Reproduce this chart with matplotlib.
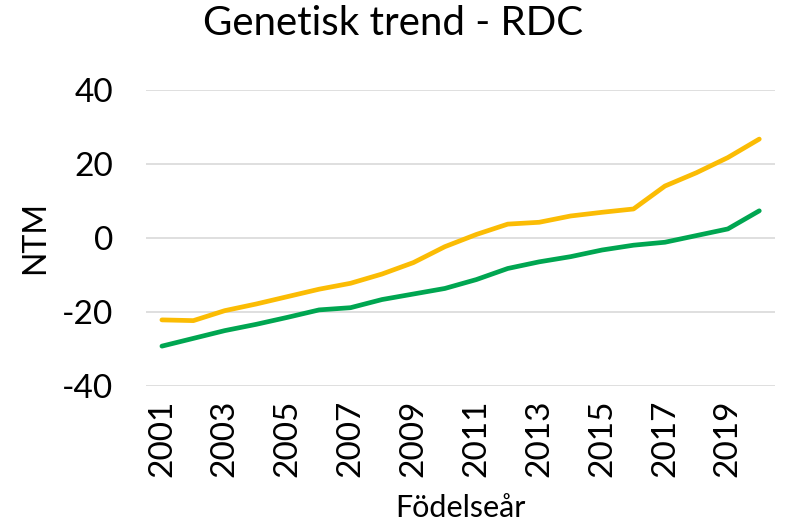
import matplotlib
matplotlib.use('Agg')
import matplotlib.pyplot as plt
import matplotlib.ticker as ticker

# データ
years = list(range(2001, 2021))
ntm_orange = [-22.2, -22.4, -19.7, -17.9, -15.9, -13.9, -12.3, -9.8, -6.7, -2.4,
              0.9, 3.7, 4.2, 5.9, 6.9, 7.8, 14.0, 17.6, 21.7, 26.7]
ntm_green = [-29.3, -27.2, -25.1, -23.4, -21.5, -19.5, -18.9, -16.7, -15.2, -13.7,
             -11.3, -8.3, -6.5, -5.1, -3.3, -2.0, -1.2, 0.6, 2.4, 7.3]
xtick_years = years[::2]

plt.rcParams['font.family'] = ['Lato', 'DejaVu Sans']
plt.rcParams['axes.unicode_minus'] = False

fig = plt.figure(figsize=(7.86, 5.32), dpi=100)
ax = fig.add_axes([0.186, 0.275, 0.8, 0.556])

ax.plot(years, ntm_orange, color='#FBBC04', linewidth=3.4, solid_capstyle='round')
ax.plot(years, ntm_green, color='#00A651', linewidth=3.4, solid_capstyle='round')

ax.set_xlim(2000.5, 2020.5)
ax.set_ylim(-40, 40)
ax.yaxis.set_major_locator(ticker.MultipleLocator(20))
ax.set_xticks(xtick_years)
ax.set_xticklabels([str(y) for y in xtick_years], rotation=90, fontsize=24)
ax.tick_params(axis='y', labelsize=24, pad=24)
ax.tick_params(axis='x', pad=10)
ax.tick_params(length=0)

# グリッド線
ax.grid(axis='y', color='#D9D9D9', linewidth=1.2)
ax.set_axisbelow(True)
for s in ax.spines.values():
    s.set_visible(False)

ax.set_ylabel('NTM', fontsize=23, labelpad=8)
ax.set_xlabel('Födelseår', fontsize=22, labelpad=12)
fig.suptitle('Genetisk trend - RDC', fontsize=29, x=0.5, y=0.99)

fig.savefig('out.png', dpi=100)
